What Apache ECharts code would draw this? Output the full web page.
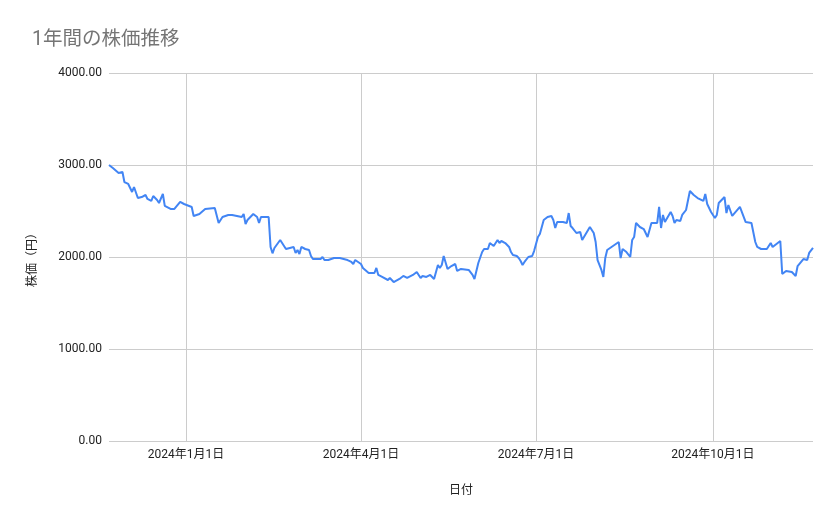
<!DOCTYPE html>
<html>
<head>
<meta charset="utf-8">
<script src="https://cdn.jsdelivr.net/npm/echarts@6/dist/echarts.min.js"></script>
<style>html,body{margin:0;padding:0;background:#fff}#c{width:839px;height:519px}</style>
</head>
<body>
<div id="c"></div>
<script>
const dates = [
"2023-11-22","2023-11-24","2023-11-27","2023-11-29","2023-11-30","2023-12-02","2023-12-03","2023-12-04","2023-12-05","2023-12-07",
"2023-12-09","2023-12-11","2023-12-12","2023-12-14","2023-12-15","2023-12-17","2023-12-18","2023-12-20","2023-12-21","2023-12-24",
"2023-12-26","2023-12-29","2023-12-31","2024-01-04","2024-01-05","2024-01-08","2024-01-11","2024-01-16","2024-01-18","2024-01-20",
"2024-01-23","2024-01-24","2024-01-25","2024-01-30","2024-01-31","2024-02-01","2024-02-02","2024-02-05","2024-02-07","2024-02-08",
"2024-02-09","2024-02-13","2024-02-14","2024-02-15","2024-02-16","2024-02-19","2024-02-22","2024-02-26","2024-02-27","2024-02-28",
"2024-02-29","2024-03-01","2024-03-03","2024-03-05","2024-03-06","2024-03-07","2024-03-11","2024-03-12","2024-03-13","2024-03-15",
"2024-03-18","2024-03-21","2024-03-25","2024-03-27","2024-03-28","2024-03-29","2024-04-01","2024-04-02","2024-04-05","2024-04-08",
"2024-04-09","2024-04-10","2024-04-12","2024-04-15","2024-04-16","2024-04-18","2024-04-21","2024-04-22","2024-04-23","2024-04-25",
"2024-04-28","2024-04-30","2024-05-02","2024-05-03","2024-05-05","2024-05-07","2024-05-09","2024-05-11","2024-05-12","2024-05-13",
"2024-05-14","2024-05-16","2024-05-18","2024-05-20","2024-05-21","2024-05-23","2024-05-24","2024-05-27","2024-05-29","2024-05-30",
"2024-06-01","2024-06-03","2024-06-04","2024-06-06","2024-06-07","2024-06-09","2024-06-11","2024-06-12","2024-06-13","2024-06-15",
"2024-06-17","2024-06-18","2024-06-19","2024-06-21","2024-06-22","2024-06-23","2024-06-24","2024-06-25","2024-06-26","2024-06-27",
"2024-06-29","2024-06-30","2024-07-02","2024-07-03","2024-07-04","2024-07-05","2024-07-07","2024-07-09","2024-07-10","2024-07-11",
"2024-07-12","2024-07-15","2024-07-17","2024-07-18","2024-07-19","2024-07-20","2024-07-22","2024-07-24","2024-07-25","2024-07-26",
"2024-07-29","2024-07-31","2024-08-01","2024-08-02","2024-08-04","2024-08-05","2024-08-06","2024-08-07","2024-08-10","2024-08-13",
"2024-08-14","2024-08-15","2024-08-17","2024-08-19","2024-08-20","2024-08-21","2024-08-22","2024-08-24","2024-08-26","2024-08-28",
"2024-08-29","2024-08-30","2024-09-02","2024-09-03","2024-09-04","2024-09-05","2024-09-06","2024-09-09","2024-09-10","2024-09-11",
"2024-09-12","2024-09-14","2024-09-15","2024-09-17","2024-09-19","2024-09-21","2024-09-23","2024-09-26","2024-09-27","2024-09-28",
"2024-09-30","2024-10-02","2024-10-03","2024-10-04","2024-10-07","2024-10-08","2024-10-09","2024-10-11","2024-10-15","2024-10-18",
"2024-10-21","2024-10-23","2024-10-24","2024-10-26","2024-10-29","2024-10-31","2024-11-01","2024-11-05","2024-11-06","2024-11-08",
"2024-11-11","2024-11-13","2024-11-14","2024-11-17","2024-11-19","2024-11-20","2024-11-22"
];
const prices = [
3000,2967,2913,2924,2815,2794,2790,2707,2761,2641,
2652,2674,2631,2609,2663,2620,2587,2685,2555,2522,
2522,2598,2576,2544,2446,2468,2522,2533,2370,2435,
2457,2446,2457,2435,2468,2359,2402,2468,2435,2370,
2435,2435,2109,2040,2098,2185,2087,2109,2044,2076,
2033,2109,2087,2076,2011,1978,1978,2000,1967,1967,
1989,1989,1967,1946,1924,1967,1924,1881,1826,1826,
1881,1805,1783,1750,1772,1728,1761,1750,1794,1772,
1805,1837,1772,1794,1783,1805,1761,1913,1881,1913,
2011,1870,1902,1924,1848,1870,1859,1859,1805,1761,
1935,2054,2087,2087,2152,2120,2185,2152,2174,2152,
2109,2054,2022,2011,1989,1957,1913,1946,1967,2000,
2011,2065,2217,2250,2326,2402,2435,2446,2402,2315,
2380,2380,2370,2478,2337,2315,2261,2272,2185,2185,
2326,2261,2163,1967,1859,1783,1989,2076,2120,2163,
1989,2087,2054,2000,2185,2217,2370,2326,2304,2217,
2228,2370,2370,2544,2315,2457,2380,2489,2446,2370,
2402,2391,2457,2511,2718,2674,2641,2609,2685,2576,
2489,2424,2457,2587,2652,2478,2565,2446,2544,2380,
2370,2163,2109,2087,2087,2152,2109,2174,1815,1848,
1837,1794,1902,1978,1967,2044,2098
];
const xRange = ["2023-11-22","2024-11-22"];
const xTickDates = ["2024-01-01","2024-04-01","2024-07-01","2024-10-01"];
const yTicks = [0,1000,2000,3000,4000];

const ts = d => +new Date(d + 'T00:00:00');
const ff = "Roboto, 'Noto Sans CJK JP', sans-serif";
const chart = echarts.init(document.getElementById('c'), null, {renderer:'canvas'});
chart.setOption({
  animation:false,
  title:{text:'1年間の株価推移', left:27, top:25,
    textStyle:{fontFamily:ff, fontSize:19.5, fontWeight:'normal', color:'#757575'}},
  grid:{left:109, right:26, top:73, bottom:78, containLabel:false},
  xAxis:{
    type:'value',
    min:ts(xRange[0]), max:ts(xRange[1]),
    name:'日付', nameLocation:'middle', nameGap:44,
    nameTextStyle:{fontFamily:ff, fontSize:12, color:'#222'},
    axisLine:{show:false},
    axisTick:{show:false, customValues: xTickDates.map(ts)},
    axisLabel:{customValues: xTickDates.map(ts),
      formatter:(v)=>{const d=new Date(v);return d.getFullYear()+'年'+(d.getMonth()+1)+'月'+d.getDate()+'日';},
      fontFamily:ff, fontSize:12, color:'#222', margin:8},
    splitLine:{show:true, lineStyle:{color:'#cccccc', width:1}}
  },
  yAxis:{
    type:'value', min:yTicks[0], max:yTicks[yTicks.length-1], interval:1000,
    name:'株価（円）', nameLocation:'middle', nameGap:70,
    nameTextStyle:{fontFamily:ff, fontSize:12, color:'#222'},
    axisLine:{show:false}, axisTick:{show:false},
    axisLabel:{formatter:v=>v.toFixed(2), fontFamily:ff, fontSize:12, color:'#222', margin:7},
    splitLine:{lineStyle:{color:'#cccccc', width:1}}
  },
  series:[{
    type:'line',
    data: dates.map((d,i)=>[ts(d), prices[i]]),
    showSymbol:false, symbol:'none',
    lineStyle:{color:'#4285f4', width:2},
    itemStyle:{color:'#4285f4'}
  }]
});
</script>
</body>
</html>
